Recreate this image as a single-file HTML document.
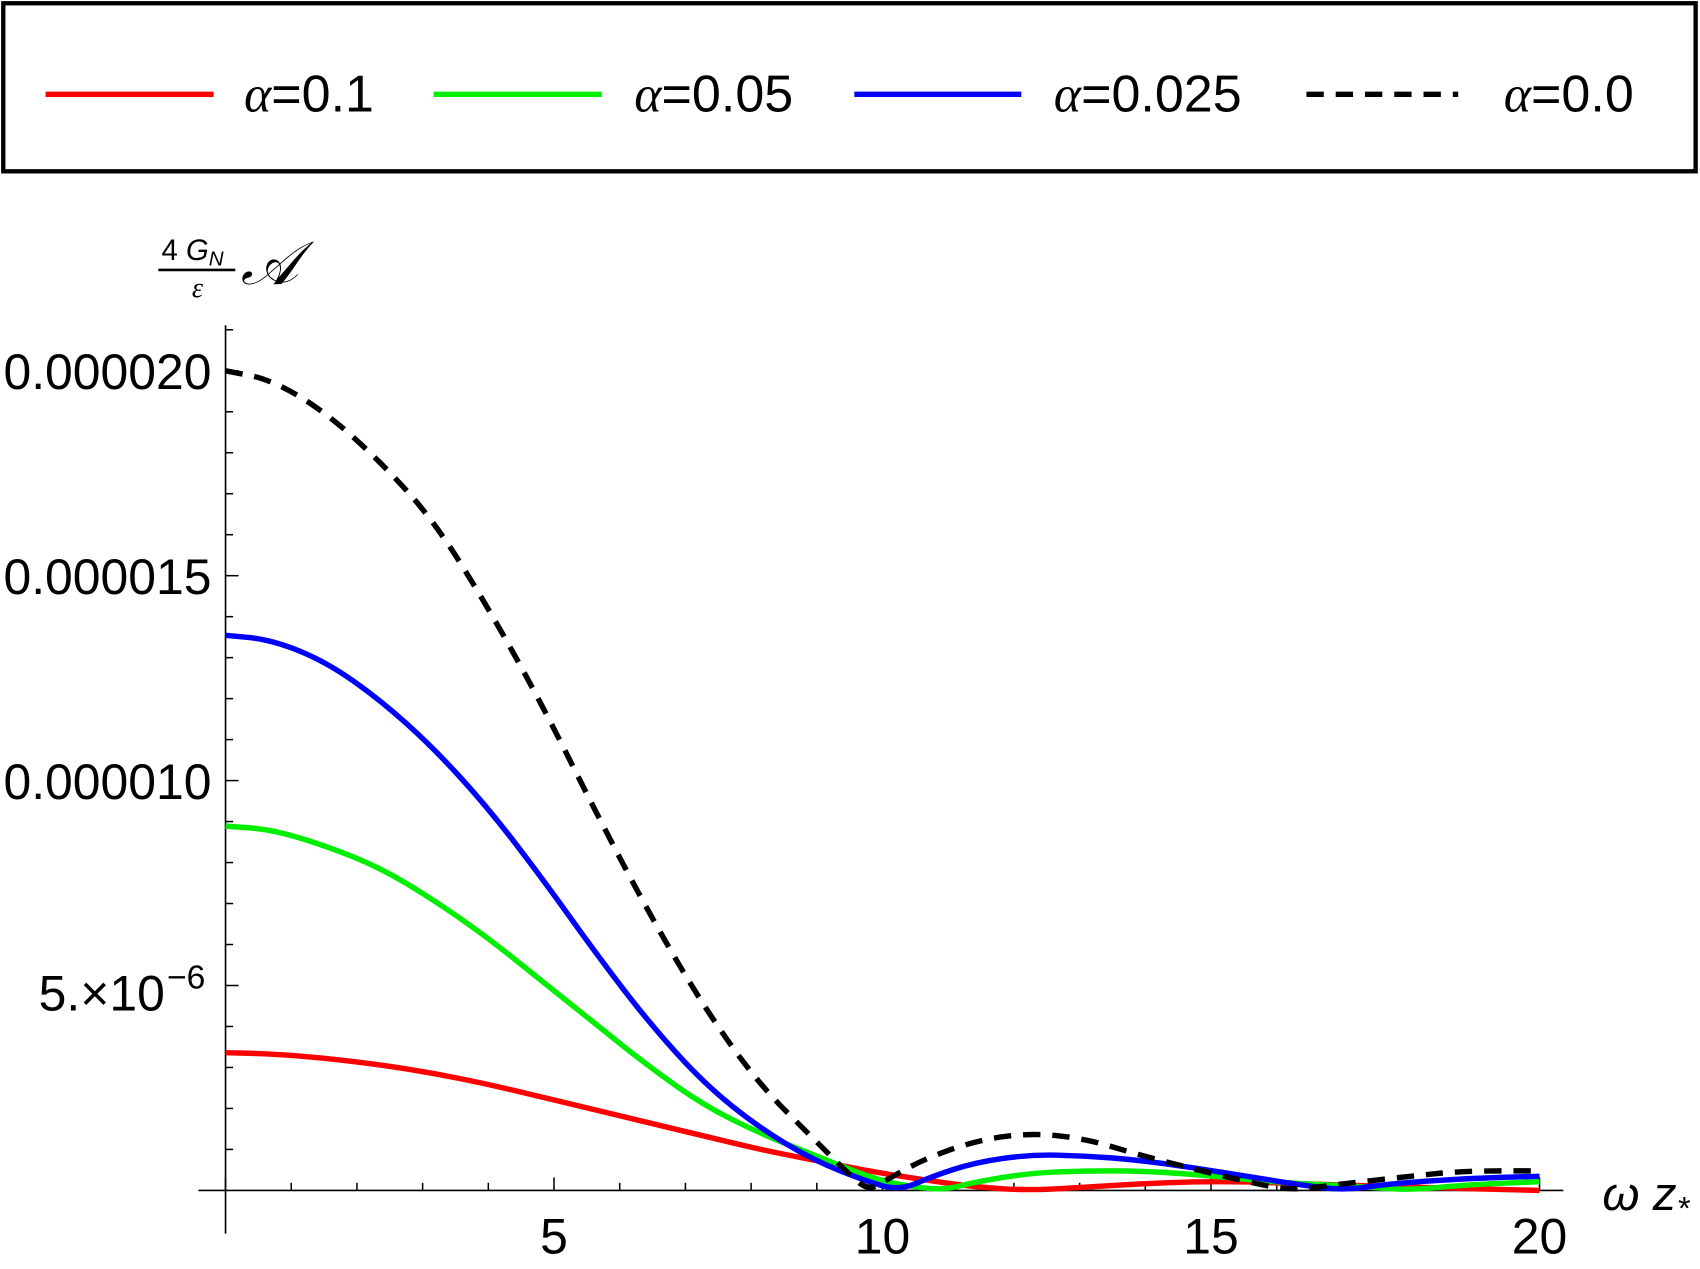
<!DOCTYPE html>
<html><head><meta charset="utf-8"><style>html,body{margin:0;padding:0;background:#fff}svg{display:block}</style></head>
<body>
<svg width="1700" height="1269" viewBox="0 0 1568 1170.5" xmlns="http://www.w3.org/2000/svg" font-family="Liberation Sans, sans-serif">
<rect x="3" y="3" width="1561" height="155" fill="none" stroke="#000" stroke-width="4"/>
<g stroke-width="5" fill="none">
<line x1="42" y1="87" x2="197" y2="87" stroke="#f00"/>
<line x1="400" y1="87" x2="555" y2="87" stroke="#0e0"/>
<line x1="788" y1="87" x2="942" y2="87" stroke="#00f"/>
<line x1="1205" y1="87" x2="1345" y2="87" stroke="#000" stroke-dasharray="16,11"/>
</g>
<g font-size="48" fill="#000">
<text x="225" y="103"><tspan font-style="italic" font-family="Liberation Serif, serif">α</tspan>=0.1</text>
<text x="585" y="103"><tspan font-style="italic" font-family="Liberation Serif, serif">α</tspan>=0.05</text>
<text x="972" y="103"><tspan font-style="italic" font-family="Liberation Serif, serif">α</tspan>=0.025</text>
<text x="1387" y="103"><tspan font-style="italic" font-family="Liberation Serif, serif">α</tspan>=0.0</text>
</g>
<!-- y label -->
<text x="149" y="240" font-size="27">4 <tspan font-style="italic">G</tspan><tspan font-style="italic" font-size="19" dy="5">N</tspan></text>
<line x1="146" y1="249" x2="217" y2="249" stroke="#000" stroke-width="2.5"/>
<text x="177" y="274" font-size="26" font-style="italic" font-family="Liberation Serif, serif">ε</text>
<text x="222" y="262" font-size="56" font-style="italic" font-family="Liberation Serif, serif">𝒜</text>
<!-- axes -->
<line x1="208" y1="300" x2="208" y2="1138" stroke="#000" stroke-width="1.5"/>
<line x1="183" y1="1098" x2="1442" y2="1098" stroke="#000" stroke-width="1.5"/>
<g stroke="#000" stroke-width="1.4">
<line x1="208" y1="1098" x2="208" y2="1086"/><line x1="268.6" y1="1098" x2="268.6" y2="1091"/><line x1="329.2" y1="1098" x2="329.2" y2="1091"/><line x1="389.8" y1="1098" x2="389.8" y2="1091"/><line x1="450.4" y1="1098" x2="450.4" y2="1091"/><line x1="511" y1="1098" x2="511" y2="1086"/><line x1="571.6" y1="1098" x2="571.6" y2="1091"/><line x1="632.2" y1="1098" x2="632.2" y2="1091"/><line x1="692.8" y1="1098" x2="692.8" y2="1091"/><line x1="753.4" y1="1098" x2="753.4" y2="1091"/><line x1="814" y1="1098" x2="814" y2="1086"/><line x1="874.6" y1="1098" x2="874.6" y2="1091"/><line x1="935.2" y1="1098" x2="935.2" y2="1091"/><line x1="995.8" y1="1098" x2="995.8" y2="1091"/><line x1="1056.4" y1="1098" x2="1056.4" y2="1091"/><line x1="1117" y1="1098" x2="1117" y2="1086"/><line x1="1177.6" y1="1098" x2="1177.6" y2="1091"/><line x1="1238.2" y1="1098" x2="1238.2" y2="1091"/><line x1="1298.8" y1="1098" x2="1298.8" y2="1091"/><line x1="1359.4" y1="1098" x2="1359.4" y2="1091"/><line x1="1420" y1="1098" x2="1420" y2="1086"/>
<line x1="208" y1="1060.2" x2="215" y2="1060.2"/><line x1="208" y1="1022.4" x2="215" y2="1022.4"/><line x1="208" y1="984.6" x2="215" y2="984.6"/><line x1="208" y1="946.8" x2="215" y2="946.8"/><line x1="208" y1="909" x2="220" y2="909"/><line x1="208" y1="871.2" x2="215" y2="871.2"/><line x1="208" y1="833.4" x2="215" y2="833.4"/><line x1="208" y1="795.6" x2="215" y2="795.6"/><line x1="208" y1="757.8" x2="215" y2="757.8"/><line x1="208" y1="720" x2="220" y2="720"/><line x1="208" y1="682.2" x2="215" y2="682.2"/><line x1="208" y1="644.4" x2="215" y2="644.4"/><line x1="208" y1="606.6" x2="215" y2="606.6"/><line x1="208" y1="568.8" x2="215" y2="568.8"/><line x1="208" y1="531" x2="220" y2="531"/><line x1="208" y1="493.2" x2="215" y2="493.2"/><line x1="208" y1="455.4" x2="215" y2="455.4"/><line x1="208" y1="417.6" x2="215" y2="417.6"/><line x1="208" y1="379.8" x2="215" y2="379.8"/><line x1="208" y1="342" x2="220" y2="342"/><line x1="208" y1="304.2" x2="215" y2="304.2"/>
</g>
<g font-size="46" text-anchor="end">
<text x="195" y="359">0.000020</text>
<text x="195" y="548">0.000015</text>
<text x="195" y="737">0.000010</text>
<text x="152" y="932">5.×10</text><text x="154" y="912" text-anchor="start" font-size="31">−6</text>
</g>
<g font-size="46" text-anchor="middle">
<text x="511" y="1156">5</text><text x="814" y="1156">10</text><text x="1117" y="1156">15</text><text x="1420" y="1156">20</text>
</g>
<text x="1478" y="1116" font-size="44" font-style="italic">ω z<tspan font-size="30" dy="9">*</tspan></text>
<g fill="none" stroke-width="5" stroke-linejoin="round">
<path stroke="#f00" d="M208,971 L229,971.5 Q250,972 275,974 Q300,976 325,979 Q350,982 375,986 Q400,990 425,995 Q450,1000 475,1006 Q500,1012 525,1018 Q550,1024 575,1030 Q600,1036 625,1042 Q650,1048 675,1054 Q700,1060 725,1065 Q750,1070 775,1075 Q800,1080 825,1084 Q850,1088 875,1091.5 Q900,1095 925,1096.5 Q950,1098 975,1096.5 Q1000,1095 1025,1093.5 Q1050,1092 1075,1091 Q1100,1090 1125,1090 Q1150,1090 1175,1091 Q1200,1092 1250,1093.5 Q1300,1095 1360,1096.5 L1420,1098"/>
<path stroke="#0e0" d="M208,762 L229,763.5 Q250,765 275,772.5 Q300,780 325,790 Q350,800 375,815 Q400,830 425,847.5 Q450,865 475,885 Q500,905 525,925 Q550,945 575,965 Q600,985 625,1002.5 Q650,1020 675,1032.5 Q700,1045 725,1055 Q750,1065 775,1075 Q800,1085 815,1089 Q830,1093 850,1095.5 Q870,1098 885,1094 Q900,1090 925,1086 Q950,1082 975,1081 Q1000,1080 1025,1080 Q1050,1080 1075,1081.5 Q1100,1083 1125,1085.5 Q1150,1088 1175,1090 Q1200,1092 1225,1093 Q1250,1094 1275,1096 Q1300,1098 1325,1095.5 Q1350,1093 1385,1091.5 L1420,1090"/>
<path stroke="#00f" d="M208,586 L229,588 Q250,590 275,600 Q300,610 325,627.5 Q350,645 375,667.5 Q400,690 425,717.5 Q450,745 475,777.5 Q500,810 525,845 Q550,880 575,912.5 Q600,945 625,972.5 Q650,1000 675,1020 Q700,1040 725,1055 Q750,1070 775,1080 Q800,1090 815,1094 Q830,1098 845,1091.5 Q860,1085 880,1078.5 Q900,1072 925,1068.5 Q950,1065 975,1065.5 Q1000,1066 1025,1068 Q1050,1070 1075,1073.5 Q1100,1077 1125,1081 Q1150,1085 1175,1089 Q1200,1093 1220,1095.5 Q1240,1098 1260,1095 Q1280,1092 1315,1089.5 Q1350,1087 1385,1086 L1420,1085"/>
<path stroke="#000" stroke-dasharray="16,11" d="M208,342 L229,346 Q250,350 275,365 Q300,380 325,402.5 Q350,425 375,452.5 Q400,480 425,520 Q450,560 475,605 Q500,650 525,700 Q550,750 575,797.5 Q600,845 625,887.5 Q650,930 675,965 Q700,1000 725,1025 Q750,1050 765,1065 Q780,1080 790,1089 Q800,1098 807.5,1094 Q815,1090 832.5,1080 Q850,1070 875,1061 Q900,1052 925,1048.5 Q950,1045 975,1047.5 Q1000,1050 1025,1057.5 Q1050,1065 1075,1071.5 Q1100,1078 1125,1084 Q1150,1090 1170,1094 Q1190,1098 1210,1095.5 Q1230,1093 1265,1089 Q1300,1085 1325,1082.5 Q1350,1080 1385,1080 L1420,1080"/>
</g>
</svg>
</body></html>
